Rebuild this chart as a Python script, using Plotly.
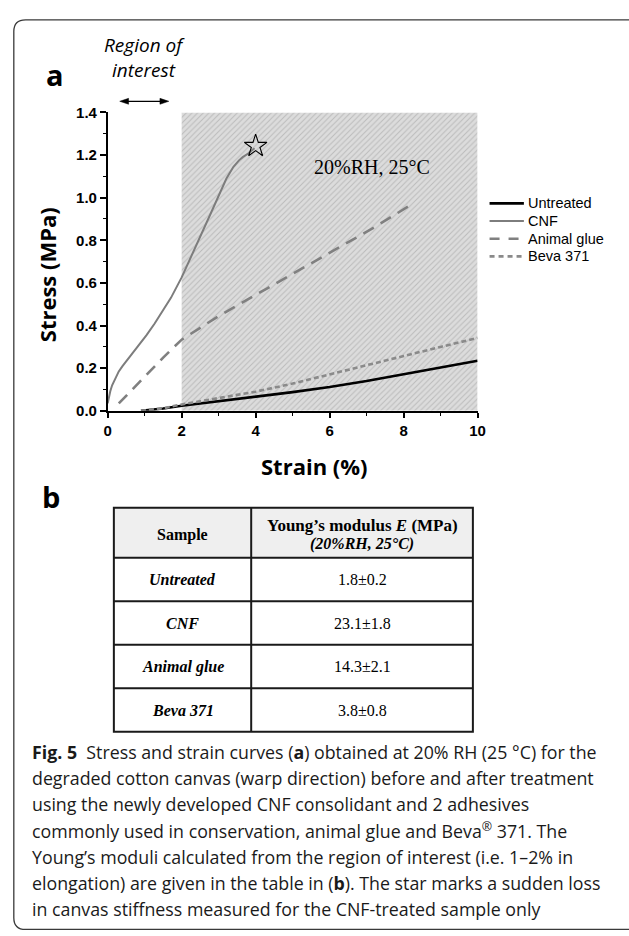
import plotly.graph_objects as go

W, H = 629, 936

# ---------------- data ----------------
untreated_x = [0.9, 1.2, 1.5, 2.0, 3.0, 4.0, 5.0, 6.0, 7.0, 8.0, 9.0, 10.0]
untreated_y = [0.0, 0.005, 0.011, 0.024, 0.045, 0.064, 0.088, 0.112, 0.140, 0.172, 0.203, 0.235]

cnf_x = [0.0, 0.03, 0.07, 0.12, 0.2, 0.3, 0.4, 0.6, 0.82, 1.05, 1.27, 1.5, 1.71, 2.0, 2.33,
         2.77, 3.21, 3.4, 3.55, 3.65, 3.8, 3.97]
cnf_y = [0.035, 0.065, 0.092, 0.12, 0.15, 0.185, 0.21, 0.255, 0.30, 0.355, 0.41, 0.47, 0.53,
         0.626, 0.75, 0.92, 1.09, 1.145, 1.175, 1.19, 1.207, 1.232]

glue_x = [0.3, 0.6, 1.0, 1.5, 2.0, 3.0, 4.1, 5.0, 6.1, 7.2, 8.25]
glue_y = [0.035, 0.09, 0.16, 0.25, 0.334, 0.445, 0.553, 0.64, 0.749, 0.86, 0.972]

beva_x = [0.9, 1.2, 1.5, 2.0, 3.0, 4.0, 5.0, 6.0, 7.0, 8.0, 9.0, 10.0]
beva_y = [0.0, 0.005, 0.012, 0.030, 0.060, 0.090, 0.128, 0.170, 0.214, 0.257, 0.300, 0.342]

star_x = [4.0]
star_y = [1.242]

hatch_x = [2, 10]      # shaded strain band
hatch_y = [0, 1.4]

x_ticks = [0, 2, 4, 6, 8, 10]
y_ticks = [0.0, 0.2, 0.4, 0.6, 0.8, 1.0, 1.2, 1.4]

samples = ["Untreated", "CNF", "Animal glue", "Beva 371"]
moduli = ["1.8±0.2", "23.1±1.8", "14.3±2.1", "3.8±0.8"]

caption_lines = [
    "<b>Fig. 5</b>  Stress and strain curves (<b>a</b>) obtained at 20% RH (25 °C) for the",
    "degraded cotton canvas (warp direction) before and after treatment",
    "using the newly developed CNF consolidant and 2 adhesives",
    "commonly used in conservation, animal glue and Beva<sup>®</sup> 371. The",
    "Young’s moduli calculated from the region of interest (i.e. 1–2% in",
    "elongation) are given in the table in (<b>b</b>). The star marks a sudden loss",
    "in canvas stiffness measured for the CNF-treated sample only",
]


def px(x):
    return x / W


def py(y):
    return 1 - y / H


series = [
    ("Untreated", untreated_x, untreated_y, dict(color="black", width=2.6)),
    ("CNF", cnf_x, cnf_y, dict(color="#7d7d7d", width=2)),
    ("Animal glue", glue_x, glue_y, dict(color="#808080", width=2.6, dash="12px,8px")),
    ("Beva 371", beva_x, beva_y, dict(color="#8a8a8a", width=2.6, dash="5px,3px")),
]
legend_dash = {"Untreated": None, "CNF": None, "Animal glue": "10px,9px", "Beva 371": "5px,4px"}

fig = go.Figure()

# hatched region
fig.add_trace(go.Scatter(
    x=[hatch_x[0], hatch_x[1], hatch_x[1], hatch_x[0], hatch_x[0]],
    y=[hatch_y[0], hatch_y[0], hatch_y[1], hatch_y[1], hatch_y[0]],
    fill="toself", mode="lines", line=dict(width=0),
    fillcolor="#dcdcdc",
    fillpattern=dict(shape="/", fgcolor="#9a9a9a", bgcolor="#dcdcdc", size=4, solidity=0.25),
    showlegend=False, hoverinfo="skip"))

for name, xs, ys, ln in series:
    fig.add_trace(go.Scatter(x=xs, y=ys, mode="lines", name=name, line=ln, showlegend=False))

fig.add_trace(go.Scatter(x=star_x, y=star_y, mode="markers", showlegend=False,
                         marker=dict(symbol="star-open", size=17, color="black",
                                     line=dict(width=1.1, color="black"))))

tickfont = dict(family="Liberation Sans, Arial", size=15, color="black", weight="bold")

fig.update_xaxes(
    domain=[px(105.7), px(482.8)], range=[0, 10], tickvals=x_ticks,
    showline=True, linecolor="black", linewidth=1.5, mirror=False,
    ticks="outside", ticklen=5, tickwidth=1.5, tickcolor="black",
    minor=dict(dtick=1, ticks="outside", ticklen=3, tickwidth=1.2, tickcolor="black"),
    showgrid=False, zeroline=False, tickfont=tickfont)
fig.update_yaxes(
    domain=[py(409.3), py(105.3)], range=[0, 1.4], tickvals=y_ticks, tickformat=".1f",
    showline=True, linecolor="black", linewidth=1.5,
    ticks="outside", ticklen=6, tickwidth=1.5, tickcolor="black",
    minor=dict(dtick=0.1, ticks="outside", ticklen=3, tickwidth=1.2, tickcolor="black"),
    showgrid=False, zeroline=False, tickfont=tickfont)

ann = []
shapes = []

# border
shapes.append(dict(
    type="path", xref="paper", yref="paper",
    path=(f"M {px(700)},{py(11)} L {px(22)},{py(11)} Q {px(10)},{py(11)} {px(10)},{py(23)} "
          f"L {px(10)},{py(925.5)} Q {px(10)},{py(937.5)} {px(22)},{py(937.5)} L {px(700)},{py(937.5)}"),
    line=dict(color="#3a3a3a", width=1.3)))

sans = "Open Sans, Noto Sans, sans-serif"
serif = "Liberation Serif, Times New Roman, serif"

ann.append(dict(text="<b>a</b>", x=px(52), y=py(67), font=dict(family=sans, size=29, color="black")))
ann.append(dict(text="<b>b</b>", x=px(48), y=py(497), font=dict(family=sans, size=29, color="black")))
ann.append(dict(text="<i>Region of</i>", x=px(143), y=py(37), font=dict(family=sans, size=19, color="black")))
ann.append(dict(text="<i>interest</i>", x=px(143), y=py(62), font=dict(family=sans, size=19, color="black")))

# double arrow (region of interest)
ay_ = 94
shapes.append(dict(type="line", xref="paper", yref="paper", x0=px(124), x1=px(162),
                   y0=py(ay_), y1=py(ay_), line=dict(color="black", width=1.3)))
shapes.append(dict(type="path", xref="paper", yref="paper",
                   path=f"M {px(118)},{py(ay_)} L {px(127)},{py(ay_-3)} L {px(127)},{py(ay_+3)} Z",
                   fillcolor="black", line=dict(color="black", width=0.5)))
shapes.append(dict(type="path", xref="paper", yref="paper",
                   path=f"M {px(168)},{py(ay_)} L {px(159)},{py(ay_-3)} L {px(159)},{py(ay_+3)} Z",
                   fillcolor="black", line=dict(color="black", width=0.5)))

ann.append(dict(text="20%RH, 25°C", x=px(375), y=py(161),
                font=dict(family=serif, size=20, color="black")))
ann.append(dict(text="<b>Stress (MPa)</b>", x=px(44), y=py(271), textangle=-90,
                font=dict(family=sans, size=22, color="black")))
ann.append(dict(text="<b>Strain (%)</b>", x=px(317), y=py(465),
                font=dict(family=sans, size=22, color="black")))

# manual legend
leg_x0, leg_x1, leg_y0, leg_dy = 495, 530, 198, 18
for i, (name, xs, ys, ln) in enumerate(series):
    yy = leg_y0 + i * leg_dy
    lline = dict(color=ln["color"], width=ln["width"])
    if legend_dash[name]:
        lline["dash"] = legend_dash[name]
    shapes.append(dict(type="line", xref="paper", yref="paper", x0=px(leg_x0), x1=px(leg_x1),
                       y0=py(yy), y1=py(yy), line=lline))
    ann.append(dict(text=name, x=px(leg_x1 + 2), y=py(yy), xanchor="left",
                    font=dict(family="Liberation Sans, Arial", size=14.5, color="black")))

# table
tl, tc, tr = 112, 252, 478
ttop, thead = 508, 559
row_h = 44.3
shapes.append(dict(type="rect", xref="paper", yref="paper", x0=px(tl), x1=px(tr),
                   y0=py(thead), y1=py(ttop), fillcolor="#efefef", line=dict(width=0), layer="below"))
nrows = len(samples)
tbot = thead + nrows * row_h
shapes.append(dict(type="rect", xref="paper", yref="paper", x0=px(tl), x1=px(tr),
                   y0=py(tbot), y1=py(ttop), line=dict(color="#1a1a1a", width=2)))
shapes.append(dict(type="line", xref="paper", yref="paper", x0=px(tc), x1=px(tc),
                   y0=py(tbot), y1=py(ttop), line=dict(color="#1a1a1a", width=2)))
for i in range(nrows):
    yl = thead + i * row_h
    shapes.append(dict(type="line", xref="paper", yref="paper", x0=px(tl), x1=px(tr),
                       y0=py(yl), y1=py(yl), line=dict(color="#1a1a1a", width=2)))

c1 = (tl + tc) / 2
c2 = (tc + tr) / 2
ann.append(dict(text="<b>Sample</b>", x=px(c1), y=py(535.5), font=dict(family=serif, size=16, color="black")))
ann.append(dict(text="<b>Young’s modulus <i>E</i> (MPa)</b>", x=px(c2), y=py(526.5),
                font=dict(family=serif, size=17, color="black")))
ann.append(dict(text="<b><i>(20%RH, 25°C)</i></b>", x=px(c2), y=py(545),
                font=dict(family=serif, size=16, color="black")))
for i, (s, m) in enumerate(zip(samples, moduli)):
    yc = thead + (i + 0.5) * row_h
    ann.append(dict(text=f"<b><i>{s}</i></b>", x=px(c1), y=py(yc),
                    font=dict(family=serif, size=16, color="black")))
    ann.append(dict(text=m, x=px(c2), y=py(yc), font=dict(family=serif, size=16, color="black")))

# caption
for i, line in enumerate(caption_lines):
    ann.append(dict(text=line, x=px(26), y=py(757 + i * 26.6), xanchor="left",
                    font=dict(family=sans, size=17.8, color="#1a1a1a")))

for a in ann:
    a.setdefault("xref", "paper")
    a.setdefault("yref", "paper")
    a.setdefault("showarrow", False)
    a.setdefault("xanchor", "center")
    a.setdefault("yanchor", "middle")

fig.update_layout(
    width=W, height=H, autosize=False,
    margin=dict(l=0, r=0, t=0, b=0),
    paper_bgcolor="white", plot_bgcolor="rgba(0,0,0,0)",
    annotations=ann, shapes=shapes, showlegend=False,
)

fig.write_html("out.html", config={"displayModeBar": False},
               post_script="document.body.style.margin='0';")
